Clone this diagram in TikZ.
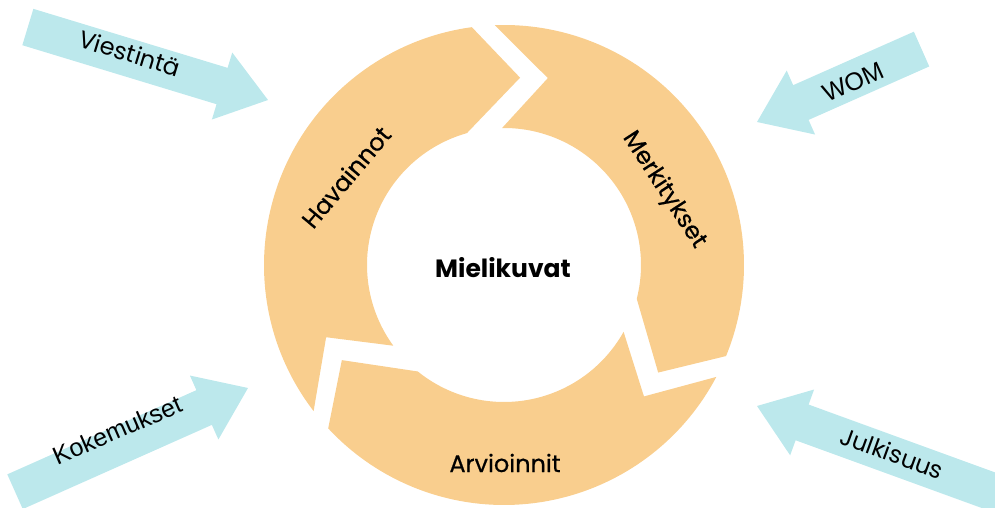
\documentclass[tikz,border=0pt]{standalone}
\usepackage{fontspec}
\setmainfont{Poppins}
\newfontfamily\mediumfont[FakeBold=0.5]{Poppins}
\newfontfamily\arialfont{Liberation Sans}
\definecolor{ringfill}{HTML}{F9CE8E}
\definecolor{arrowfill}{HTML}{BCE8EC}
% block arrow: tip position, direction angle, total length
\newcommand\inarrow[3]{%
  \begin{scope}[shift={#1}, rotate=#2]
    \fill[blockarrow] (0,0) -- (-48,35) -- (-48,19) -- (-#3,19) -- (-#3,-19)
      -- (-48,-19) -- (-48,-35) -- cycle;
  \end{scope}}
\begin{document}
\begin{tikzpicture}[x=1pt,y=1pt,
  segment/.style={fill=ringfill, draw=none},
  blockarrow/.style={fill=arrowfill, draw=none},
  ringlabel/.style={font=\mediumfont\fontsize{24}{28}\selectfont, inner sep=0pt},
  centerlabel/.style={font=\fontsize{25}{30}\selectfont\bfseries, inner sep=0pt},
  arrowlabel/.style={font=\fontsize{24}{28}\selectfont, inner sep=0pt},
  arrowlabelsans/.style={font=\arialfont\fontsize{25}{30}\selectfont, inner sep=0pt}]
\useasboundingbox (0,0) rectangle (995,508);

% cycle of three curved block arrows
\begin{scope}[shift={(504,243)}]
  % Havainnot
  \fill[segment] (217.5:240) arc[start angle=217.5, end angle=97.7, radius=240]
    -- (85.1:188) -- (105.7:137) arc[start angle=105.7, end angle=216.1, radius=137]
    -- (202.1:192) -- cycle;
  % Merkitykset
  \fill[segment] (92.2:240) arc[start angle=92.2, end angle=-22.3, radius=240]
    -- (-34.9:188) -- (-14.3:137) arc[start angle=-14.3, end angle=90.8, radius=137]
    -- (76.8:192) -- cycle;
  % Arvioinnit
  \fill[segment] (-27.8:240) arc[start angle=-27.8, end angle=-137.1, radius=240]
    -- (-149.6:188) -- (-129:137) arc[start angle=-129, end angle=-29.2, radius=137]
    -- (-43.2:192) -- cycle;
\end{scope}

% inward arrows
\inarrow{(268,408)}{-16.9}{251}
\inarrow{(757,386)}{203.9}{180}
\inarrow{(248,120)}{24}{255}
\inarrow{(757,102)}{160}{272}

% labels
\node[centerlabel] (mielikuvat) at (503,240) {Mielikuvat};
\node[ringlabel, rotate=50] (havainnot) at (346,331) {Havainnot};
\node[ringlabel, rotate=-57] (merkitykset) at (664,318) {Merkitykset};
\node[ringlabel] (arvioinnit) at (505,45) {Arvioinnit};

\node[arrowlabel, rotate=-17] (viestinta) at (130,455) {Viestintä};
\node[arrowlabelsans, rotate=24] (wom) at (853,426) {WOM};
\node[arrowlabelsans, rotate=23.5] (kokemukset) at (117,78) {Kokemukset};
\node[arrowlabel, rotate=-20] (julkisuus) at (892,55) {Julkisuus};
\end{tikzpicture}
\end{document}
